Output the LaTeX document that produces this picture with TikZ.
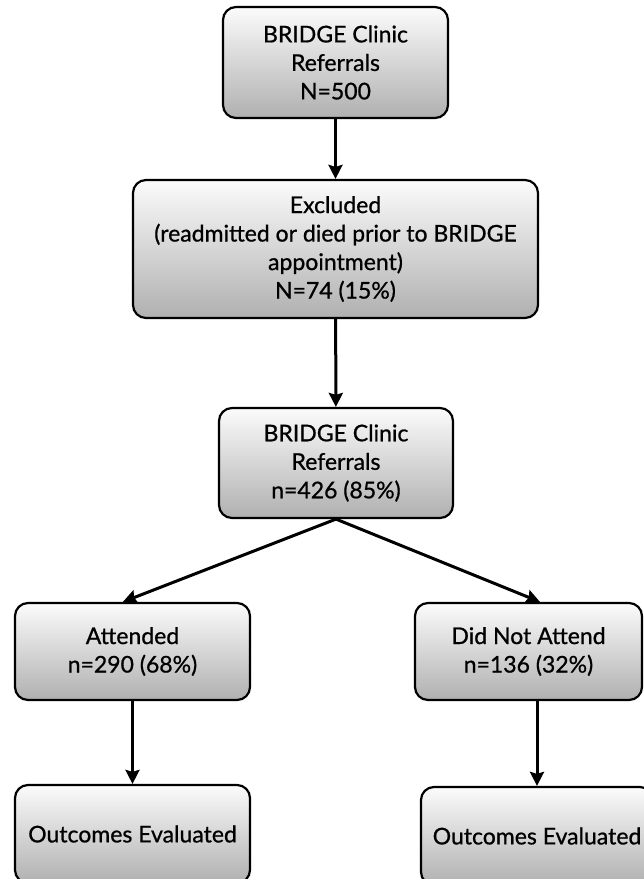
\documentclass[tikz,border=0pt]{standalone}
\usepackage{fontspec}
\setmainfont{Lato}
\newfontfamily\boxfont{Lato}[FakeBold=0.8]
\usetikzlibrary{arrows.meta}
\begin{document}
\begin{tikzpicture}[x=1pt,y=-1pt,
  box/.style={draw=black, line width=2.2pt, rounded corners=13pt,
    top color=gray!3, middle color=gray!18, bottom color=gray!62, align=center,
    font=\boxfont\fontsize{23}{28.5}\selectfont, inner sep=0pt},
  arr/.style={line width=3pt, -{Stealth[length=14pt,width=14pt,inset=2pt]}}]
\useasboundingbox (0,0) rectangle (644,879);
\clip (0,0) rectangle (644,879);
\fill[white] (0,0) rectangle (644,879);
\node[box, minimum width=225pt, minimum height=111pt] (b1) at (335.5,62.5) {BRIDGE Clinic\\Referrals\\N=500};
\node[box, minimum width=405pt, minimum height=138pt] (b2) at (335.5,249) {Excluded\\(readmitted or died prior to BRIDGE\\appointment)\\N=74 (15\%)};
\node[box, minimum width=234pt, minimum height=110pt] (b3) at (336,463) {BRIDGE Clinic\\Referrals\\n=426 (85\%)};
\node[box, minimum width=235pt, minimum height=97pt] (b4) at (132.5,651.5) {Attended\\n=290 (68\%)};
\node[box, minimum width=227pt, minimum height=97pt] (b5) at (528.5,651.5) {Did Not Attend\\n=136 (32\%)};
\node[box, minimum width=235pt, minimum height=98pt] (b6) at (132.5,834) {Outcomes Evaluated};
\node[box, minimum width=232pt, minimum height=98pt] (b7) at (537,836) {Outcomes Evaluated};
\draw[arr] (b1) -- (b2);
\draw[arr] (b2) -- (b3);
\draw[arr] (b3.south) -- (b4.101);
\draw[arr] (b3.south) -- (b5.77);
\draw[arr] (b4) -- (b6);
\draw[arr] (b7.north |- b5.south) -- (b7.north);
\end{tikzpicture}
\end{document}
